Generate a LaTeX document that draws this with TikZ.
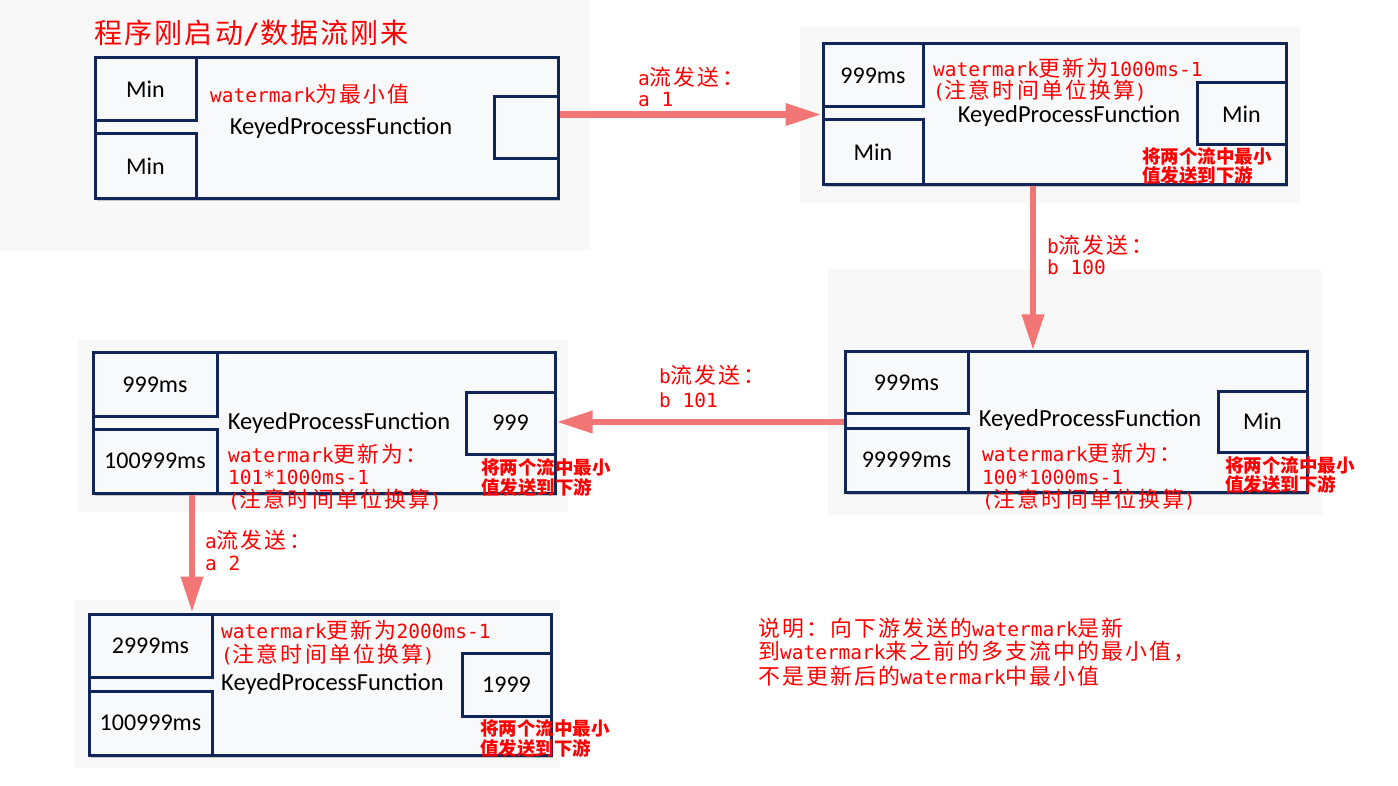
\documentclass[tikz,border=0pt]{standalone}
\usepackage{fontspec}
\setmainfont{Carlito}
\newfontfamily\cjk[Scale=1.12,LetterSpace=10]{Noto Sans CJK SC}
\newfontfamily\cjkT[LetterSpace=8]{Noto Sans CJK SC}
\newfontfamily\cjkb{Noto Sans CJK SC}
\newfontfamily\mono{DejaVu Sans Mono}
\newcommand\M[1]{{\mono #1}}
\usetikzlibrary{arrows.meta,shadows}
\definecolor{navy}{RGB}{16,38,88}
\definecolor{boxfill}{RGB}{248,249,251}
\definecolor{arr}{RGB}{243,118,118}
\definecolor{patch}{RGB}{248,248,249}
\definecolor{lab}{RGB}{255,0,0}
\begin{document}
\begin{tikzpicture}[x=1pt,y=-1pt,
  outerbox/.style={draw=navy, line width=3pt, fill=boxfill, inner sep=0pt,
    drop shadow={shadow xshift=1.5pt, shadow yshift=-2.5pt, opacity=0.35, fill=black!60}},
  inbox/.style={draw=navy, line width=3pt, fill=boxfill, inner sep=0pt, font=\fontsize{24}{28}\selectfont},
  kpf/.style={font=\fontsize{24.5}{28}\selectfont, inner sep=0pt},
  redlab/.style={text=lab, inner sep=0pt, anchor=west, font=\fontsize{19.5}{24}\selectfont\cjk},
  smallred/.style={text=lab, inner sep=0pt, anchor=west, font=\fontsize{18.5}{20}\selectfont\cjkb\bfseries},
  flow/.style={draw=arr, line width=6.5pt, -{Triangle[length=36pt,width=21pt]}}
]
\useasboundingbox (0,0) rectangle (1398,786);
\fill[white] (0,0) rectangle (1398,786);
% background patches
\fill[patch] (0,0) rectangle (590,250);
\fill[patch] (800,26) rectangle (1300,203);
\fill[patch] (828,270) rectangle (1322,515);
\fill[patch] (78,340) rectangle (568,512);
\fill[patch] (75,600) rectangle (560,768);

% title
\node[anchor=west, text=lab, inner sep=0pt, font=\fontsize{28}{32}\selectfont\cjkT] (title) at (94,33) {程序刚启动\M{/}数据流刚来};

% ---------- block 1
\node[outerbox, minimum width=463pt, minimum height=141pt] (b1) at (326.5,128.5) {};
\node[inbox, minimum width=101pt, minimum height=63pt] (b1u) at (145.5,89.5) {Min};
\node[inbox, minimum width=101pt, minimum height=65pt] (b1l) at (145.5,166.5) {Min};
\node[inbox, minimum width=64pt, minimum height=62pt] (b1r) at (526,128) {};
\node[redlab] (t1a) at (210,94) {\M{watermark}为最小值};
\node[kpf] (k1) at (341,128) {KeyedProcessFunction};

% ---------- block 2
\node[outerbox, minimum width=463pt, minimum height=141pt] (b2) at (1054.5,114.5) {};
\node[inbox, minimum width=100pt, minimum height=63pt] (b2u) at (873,75.5) {999ms};
\node[inbox, minimum width=100pt, minimum height=65pt] (b2l) at (873,152.5) {Min};
\node[inbox, minimum width=89pt, minimum height=62pt] (b2r) at (1241.5,114) {Min};
\node[redlab] (t2a) at (933,68) {\M{watermark}更新为\M{1000ms-1}};
\node[redlab] (t2b) at (933,91) {\M{(}注意时间单位换算\M{)}};
\node[kpf] (k2) at (1069,116) {KeyedProcessFunction};
\node[smallred] (s2a) at (1142,156) {将两个流中最小};
\node[smallred] (s2b) at (1142,175) {值发送到下游};

% ---------- block 3
\node[outerbox, minimum width=462pt, minimum height=140pt] (b3) at (1076,422) {};
\node[inbox, minimum width=123pt, minimum height=61pt] (b3u) at (906.5,382.5) {999ms};
\node[inbox, minimum width=123pt, minimum height=64pt] (b3l) at (906.5,460) {99999ms};
\node[inbox, minimum width=89pt, minimum height=61pt] (b3r) at (1262.5,421.5) {Min};
\node[kpf] (k3) at (1090,420) {KeyedProcessFunction};
\node[redlab] (t3a) at (982,453) {\M{watermark}更新为：};
\node[redlab] (t3b) at (982,477) {\M{100*1000ms-1}};
\node[redlab] (t3c) at (982,500) {\M{(}注意时间单位换算\M{)}};
\node[smallred] (s3a) at (1225,465) {将两个流中最小};
\node[smallred] (s3b) at (1225,484) {值发送到下游};

% ---------- block 4
\node[outerbox, minimum width=462pt, minimum height=140pt] (b4) at (324,423) {};
\node[inbox, minimum width=124pt, minimum height=63pt] (b4u) at (155,384.5) {999ms};
\node[inbox, minimum width=124pt, minimum height=64pt] (b4l) at (155,461) {100999ms};
\node[inbox, minimum width=89pt, minimum height=62pt] (b4r) at (510.5,423) {999};
\node[kpf] (k4) at (339,423) {KeyedProcessFunction};
\node[redlab] (t4a) at (228,454) {\M{watermark}更新为：};
\node[redlab] (t4b) at (228,477) {\M{101*1000ms-1}};
\node[redlab] (t4c) at (228,500) {\M{(}注意时间单位换算\M{)}};
\node[smallred] (s4a) at (481,467) {将两个流中最小};
\node[smallred] (s4b) at (481,487) {值发送到下游};

% ---------- block 5
\node[outerbox, minimum width=462pt, minimum height=141pt] (b5) at (320,684.5) {};
\node[inbox, minimum width=123pt, minimum height=63pt] (b5u) at (150.5,645.5) {2999ms};
\node[inbox, minimum width=123pt, minimum height=64pt] (b5l) at (150.5,723) {100999ms};
\node[inbox, minimum width=89pt, minimum height=63pt] (b5r) at (506.5,684.5) {1999};
\node[redlab] (t5a) at (221,630) {\M{watermark}更新为\M{2000ms-1}};
\node[redlab] (t5b) at (221,655) {\M{(}注意时间单位换算\M{)}};
\node[kpf, anchor=west] (k5) at (221,684) {KeyedProcessFunction};
\node[smallred] (s5a) at (480,728) {将两个流中最小};
\node[smallred] (s5b) at (480,748) {值发送到下游};

% ---------- arrows
\coordinate (a2x) at (1033,0);
\coordinate (a4x) at (192,0);
\draw[flow] (b1.east |- b2.west) -- (b2.west);
\draw[flow] (b2.south -| a2x) -- (b3.north -| a2x);
\draw[flow] (b3.west) -- (b3.west -| b4.east);
\draw[flow] (b4.south -| a4x) -- (b5.north -| a4x);

% arrow labels
\node[redlab] (l1a) at (638,77) {\M{a}流发送：};
\node[redlab] (l1b) at (638,100) {\M{a 1}};
\node[redlab] (l2a) at (1047,245) {\M{b}流发送：};
\node[redlab] (l2b) at (1047,267) {\M{b 100}};
\node[redlab] (l3a) at (659,375) {\M{b}流发送：};
\node[redlab] (l3b) at (659,400) {\M{b 101}};
\node[redlab] (l4a) at (205,540) {\M{a}流发送：};
\node[redlab] (l4b) at (205,563) {\M{a 2}};

% note
\node[redlab] (n1) at (758,628) {说明：向下游发送的\M{watermark}是新};
\node[redlab] (n2) at (758,651) {到\M{watermark}来之前的多支流中的最小值，};
\node[redlab] (n3) at (758,676) {不是更新后的\M{watermark}中最小值};
\end{tikzpicture}
\end{document}
